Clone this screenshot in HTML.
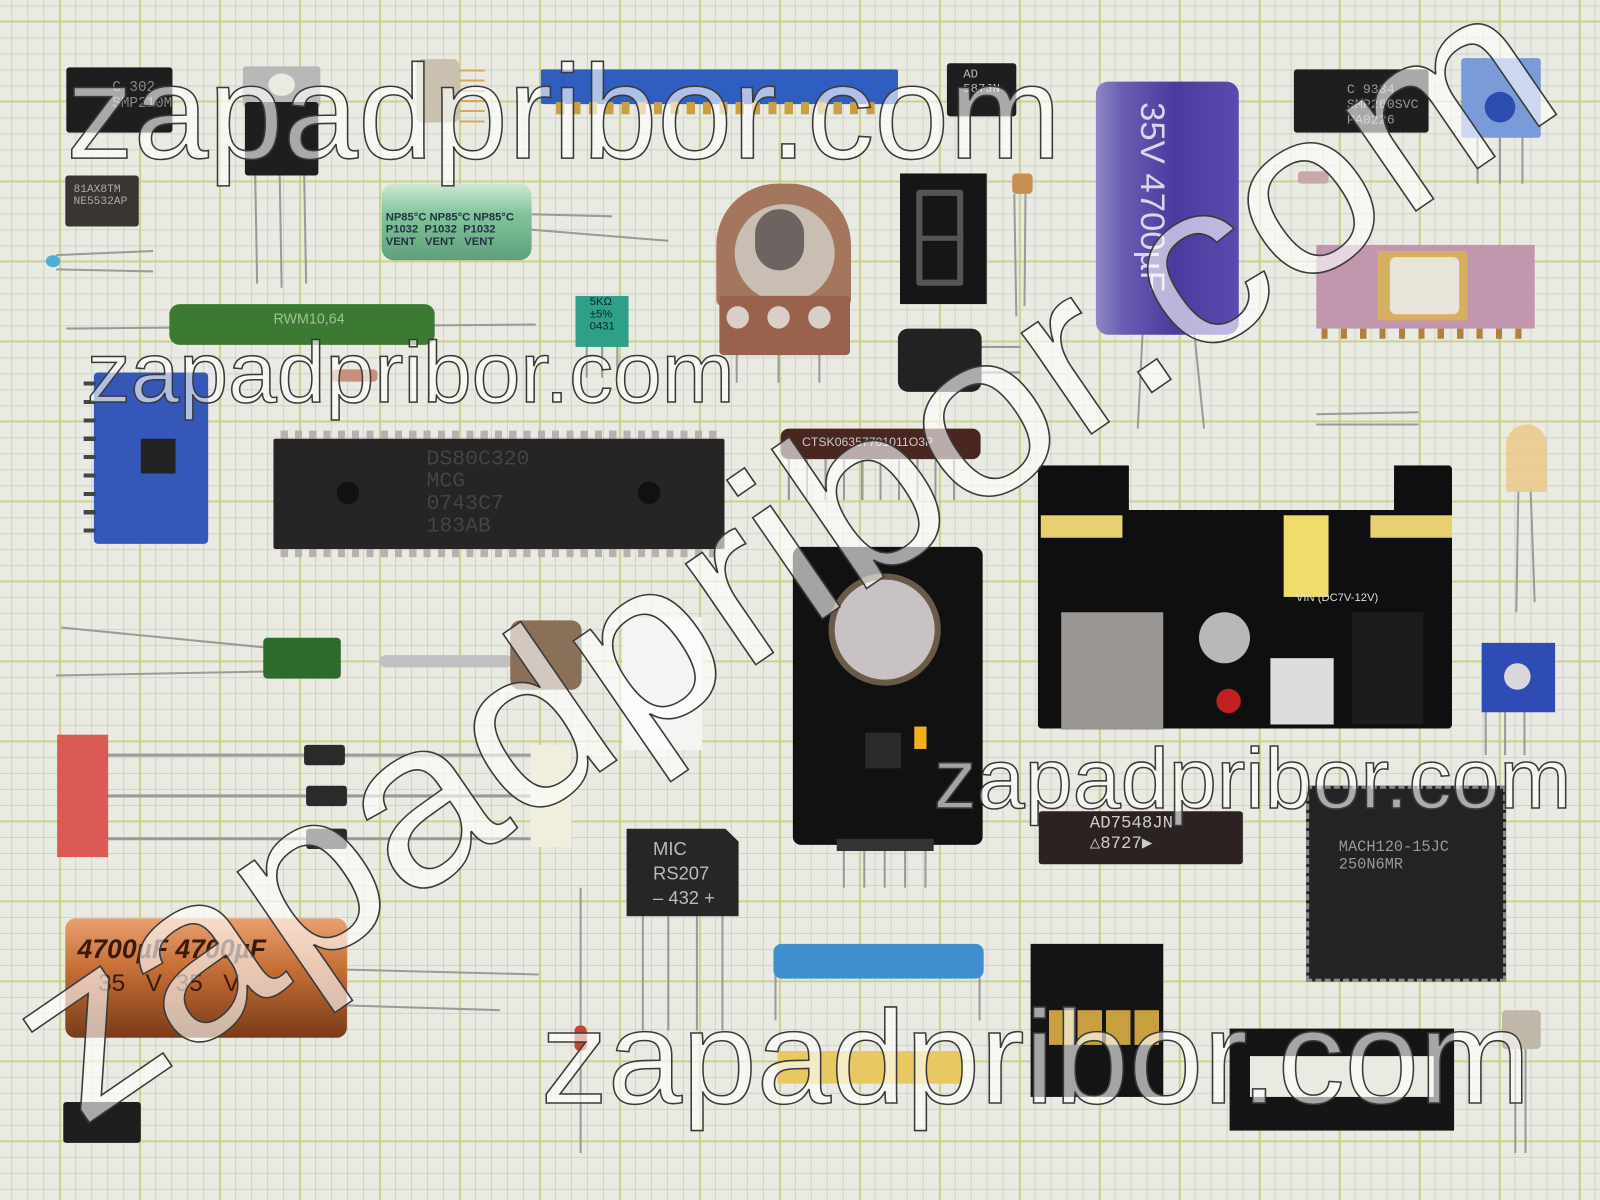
<!DOCTYPE html>
<html><head><meta charset="utf-8"><style>
html,body{margin:0;padding:0;width:1600px;height:1200px;overflow:hidden;background:#e9eae2}
#s{position:absolute;left:0;top:0;width:1568px;height:1176px;transform:scale(1.0204);transform-origin:0 0;
background-color:#e9eae2;
background-image:
linear-gradient(90deg,rgba(200,205,120,.75) 2px,transparent 2px),
linear-gradient(0deg,rgba(200,205,120,.75) 2px,transparent 2px),
linear-gradient(90deg,rgba(180,185,175,.45) 1px,transparent 1px),
linear-gradient(0deg,rgba(180,185,175,.45) 1px,transparent 1px);
background-size:78.4px 78.4px,78.4px 78.4px,15.68px 15.68px,15.68px 15.68px;
background-position:58px 0,0 22px,58px 0,0 22px;font-family:"Liberation Sans",sans-serif}
.a{position:absolute;box-sizing:border-box}
.blk{background:#1e1e1e;border-radius:3px}
.t{position:absolute;color:#888;font-family:"Liberation Mono",monospace}
.wm text{font-family:"Liberation Sans",sans-serif;fill:rgba(255,255,255,.62);stroke:#3a3a3a;stroke-width:1.5}
</style></head><body><div id="s">

<svg class="a" style="left:0;top:0" width="1568" height="1176">
<g stroke="#9a9a9a" stroke-width="2" fill="none">
<line x1="55" y1="250" x2="150" y2="246"/><line x1="55" y1="264" x2="150" y2="266"/>
<line x1="520" y1="210" x2="600" y2="212"/><line x1="520" y1="225" x2="655" y2="236"/>
<line x1="65" y1="322" x2="525" y2="318"/>
<line x1="994" y1="190" x2="996" y2="310"/><line x1="1005" y1="190" x2="1004" y2="300"/>
<line x1="960" y1="340" x2="1000" y2="340"/><line x1="960" y1="365" x2="1000" y2="365"/>
<line x1="1120" y1="322" x2="1115" y2="420"/><line x1="1170" y1="322" x2="1180" y2="420"/>
<line x1="1290" y1="406" x2="1390" y2="404"/><line x1="1290" y1="416" x2="1390" y2="416"/>
<line x1="1488" y1="480" x2="1486" y2="600"/><line x1="1500" y1="480" x2="1504" y2="590"/>
<line x1="60" y1="615" x2="265" y2="635"/><line x1="55" y1="662" x2="265" y2="658"/>
<line x1="100" y1="740" x2="530" y2="740" stroke-width="3"/><line x1="100" y1="780" x2="530" y2="780" stroke-width="3"/><line x1="100" y1="822" x2="530" y2="822" stroke-width="3"/>
<line x1="330" y1="950" x2="528" y2="955"/><line x1="330" y1="985" x2="490" y2="990"/>
<line x1="569" y1="870" x2="569" y2="1130"/>
<line x1="630" y1="895" x2="630" y2="1010"/><line x1="655" y1="895" x2="655" y2="1010"/><line x1="683" y1="895" x2="683" y2="1010"/><line x1="708" y1="895" x2="708" y2="1010"/>
<line x1="1485" y1="1025" x2="1485" y2="1130"/><line x1="1495" y1="1025" x2="1495" y2="1130"/>
<line x1="1456" y1="695" x2="1456" y2="740"/><line x1="1475" y1="695" x2="1475" y2="740"/><line x1="1494" y1="695" x2="1494" y2="740"/>
<line x1="250" y1="165" x2="252" y2="278"/><line x1="274" y1="165" x2="276" y2="282"/><line x1="298" y1="165" x2="300" y2="278"/>
<line x1="1448" y1="130" x2="1448" y2="180"/><line x1="1470" y1="130" x2="1470" y2="180"/><line x1="1492" y1="130" x2="1492" y2="180"/>
<line x1="722" y1="345" x2="722" y2="375"/><line x1="763" y1="345" x2="763" y2="375"/><line x1="803" y1="345" x2="803" y2="375"/>
<line x1="575" y1="338" x2="575" y2="370"/><line x1="590" y1="338" x2="590" y2="370"/><line x1="605" y1="338" x2="605" y2="370"/>
<line x1="760" y1="945" x2="760" y2="1000"/><line x1="960" y1="945" x2="960" y2="1000"/>
<line x1="827" y1="830" x2="827" y2="870"/><line x1="847" y1="830" x2="847" y2="870"/><line x1="867" y1="830" x2="867" y2="870"/><line x1="887" y1="830" x2="887" y2="870"/><line x1="907" y1="830" x2="907" y2="870"/>
</g></svg>

<div class="a blk" style="left:65px;top:66px;width:104px;height:64px"></div>
<div class="t" style="left:110px;top:78px;font-size:14px">C 302<br>SMP210M</div>
<div class="a" style="left:238px;top:65px;width:76px;height:40px;background:#b8b8b8;border-radius:3px"></div>
<div class="a" style="left:263px;top:72px;width:26px;height:22px;background:#e9eae2;border-radius:50%"></div>
<div class="a blk" style="left:240px;top:100px;width:72px;height:72px"></div>
<div class="a" style="left:64px;top:172px;width:72px;height:50px;background:#3b3532;border-radius:3px"></div>
<div class="t" style="left:72px;top:180px;font-size:11px;color:#aaa">81AX8TM<br>NE5532AP</div>
<div class="a" style="left:45px;top:250px;width:14px;height:12px;background:#4ab0d8;border-radius:50%"></div>
<div class="a" style="left:408px;top:58px;width:42px;height:62px;background:#c9c0b0;border-radius:6px"></div>
<div class="a" style="left:450px;top:60px;width:25px;height:60px;background:repeating-linear-gradient(0deg,#d8a860 0 2px,transparent 2px 10px)"></div>
<div class="a" style="left:530px;top:68px;width:350px;height:34px;background:#2d5ec0;border-radius:2px"></div>
<div class="a" style="left:545px;top:100px;width:315px;height:12px;background:repeating-linear-gradient(90deg,#c8a040 0 8px,transparent 8px 16px)"></div>
<div class="a blk" style="left:928px;top:62px;width:68px;height:52px"></div>
<div class="t" style="left:944px;top:66px;font-size:12px;color:#bbb">AD<br>587JN</div>
<div class="a" style="left:1074px;top:80px;width:140px;height:248px;background:linear-gradient(90deg,#8e88c4 0,#6a5fb3 18%,#4a3a9e 55%,#5a4cad 100%);border-radius:12px"></div>
<div class="a" style="top:100px;font-size:34px;color:#d8d8e8;transform:rotate(90deg);transform-origin:0 0;left:1148px;white-space:nowrap">35V 4700µF</div>
<div class="a blk" style="left:1268px;top:68px;width:132px;height:62px"></div>
<div class="t" style="left:1320px;top:80px;font-size:13px;color:#999">C 9334<br>SMP260SVC<br>PA0226</div>
<div class="a" style="left:1432px;top:57px;width:78px;height:78px;background:#7a9ad8;border-radius:3px"></div>
<div class="a" style="left:1455px;top:90px;width:30px;height:30px;background:#2c4cb0;border-radius:50%"></div>
<div class="a" style="left:1272px;top:168px;width:30px;height:12px;background:#c8a8a8;border-radius:3px"></div>
<div class="a" style="left:1290px;top:240px;width:214px;height:82px;background:#c197ae"></div>
<div class="a" style="left:1350px;top:246px;width:88px;height:68px;background:#d6b060"></div>
<div class="a" style="left:1362px;top:252px;width:68px;height:56px;background:#e8e4da;border-radius:6px"></div>
<div class="a" style="left:1295px;top:322px;width:205px;height:10px;background:repeating-linear-gradient(90deg,#b08040 0 6px,transparent 6px 19px)"></div>
<div class="a" style="left:374px;top:180px;width:147px;height:75px;background:linear-gradient(180deg,#cfe8d4,#82c49a 40%,#5ea07a);border-radius:12px"></div>
<div class="a" style="left:378px;top:207px;font-size:11px;color:#234;font-weight:bold;white-space:nowrap">NP85°C NP85°C NP85°C<br>P1032 &nbsp;P1032 &nbsp;P1032<br>VENT &nbsp;&nbsp;VENT &nbsp;&nbsp;VENT</div>
<div class="a" style="left:702px;top:180px;width:132px;height:120px;background:#a5765e;border-radius:60px 60px 6px 6px"></div>
<div class="a" style="left:720px;top:200px;width:98px;height:96px;background:#c8beb4;border-radius:50%"></div>
<div class="a" style="left:740px;top:205px;width:48px;height:60px;background:#6c6460;border-radius:24px"></div>
<div class="a" style="left:705px;top:290px;width:128px;height:58px;background:#98624c;border-radius:4px"></div>
<div class="a" style="left:712px;top:300px;width:22px;height:22px;background:#d8cfc8;border-radius:50%"></div>
<div class="a" style="left:752px;top:300px;width:22px;height:22px;background:#d8cfc8;border-radius:50%"></div>
<div class="a" style="left:792px;top:300px;width:22px;height:22px;background:#d8cfc8;border-radius:50%"></div>
<div class="a" style="left:882px;top:170px;width:85px;height:128px;background:#161616"></div>
<div class="a" style="left:898px;top:186px;width:46px;height:94px;border:6px solid #555;border-radius:3px"></div>
<div class="a" style="left:898px;top:231px;width:46px;height:5px;background:#555"></div>
<div class="a" style="left:992px;top:170px;width:20px;height:20px;background:#c89050;border-radius:4px"></div>
<div class="a" style="left:880px;top:322px;width:82px;height:62px;background:#222;border-radius:10px"></div>
<div class="a" style="left:166px;top:298px;width:260px;height:40px;background:#3c7a34;border-radius:10px"></div>
<div class="a" style="left:268px;top:304px;font-size:14px;color:#9fc098">RWM10,64</div>
<div class="a" style="left:564px;top:290px;width:52px;height:50px;background:#2fa088"></div>
<div class="a" style="left:578px;top:290px;font-size:11px;color:#123">5KΩ<br>±5%<br>0431</div>
<div class="a" style="left:325px;top:362px;width:45px;height:12px;background:#c8907c;border-radius:4px"></div>
<div class="a" style="left:92px;top:365px;width:112px;height:168px;background:#3558b8;border-radius:4px"></div>
<div class="a" style="left:82px;top:372px;width:12px;height:150px;background:repeating-linear-gradient(0deg,#444 0 4px,transparent 4px 18px)"></div>
<div class="a" style="left:138px;top:430px;width:34px;height:34px;background:#222"></div>
<div class="a" style="left:275px;top:422px;width:432px;height:10px;background:repeating-linear-gradient(90deg,#b8b0b0 0 7px,transparent 7px 14px)"></div>
<div class="a" style="left:275px;top:536px;width:432px;height:10px;background:repeating-linear-gradient(90deg,#b8b0b0 0 7px,transparent 7px 14px)"></div>
<div class="a" style="left:268px;top:430px;width:442px;height:108px;background:#262424;border-radius:2px"></div>
<div class="a" style="left:330px;top:472px;width:22px;height:22px;background:#111;border-radius:50%"></div>
<div class="a" style="left:625px;top:472px;width:22px;height:22px;background:#111;border-radius:50%"></div>
<div class="t" style="left:418px;top:440px;font-size:21px;color:#444;line-height:22px">DS80C320<br>MCG<br>0743C7<br>183AB</div>
<div class="a" style="left:765px;top:420px;width:196px;height:30px;background:#4a2620;border-radius:8px"></div>
<div class="a" style="left:786px;top:426px;font-size:12px;color:#ccc">CTSK06357701011O3P</div>
<div class="a" style="left:772px;top:450px;width:180px;height:40px;background:repeating-linear-gradient(90deg,#999 0 2px,transparent 2px 18px)"></div>
<div class="a" style="left:1017px;top:456px;width:406px;height:258px;background:#0f0f0f;border-radius:4px;clip-path:polygon(0 0,22% 0,22% 17%,86% 17%,86% 0,100% 0,100% 100%,0 100%)"></div>
<div class="a" style="left:1020px;top:505px;width:80px;height:22px;background:#e8d070"></div>
<div class="a" style="left:1343px;top:505px;width:80px;height:22px;background:#e8d070"></div>
<div class="a" style="left:1258px;top:505px;width:44px;height:80px;background:#f0dc6a"></div>
<div class="a" style="left:1040px;top:600px;width:100px;height:115px;background:#9a9694"></div>
<div class="a" style="left:1175px;top:600px;width:50px;height:50px;background:#b8b8b8;border-radius:50%"></div>
<div class="a" style="left:1245px;top:645px;width:62px;height:65px;background:#ddd"></div>
<div class="a" style="left:1192px;top:675px;width:24px;height:24px;background:#c02020;border-radius:50%"></div>
<div class="a" style="left:1325px;top:600px;width:70px;height:110px;background:#1c1c1c"></div>
<div class="a" style="top:580px;font-size:11px;color:#ddd;white-space:nowrap;left:1270px">VIN (DC7V-12V)</div>
<div class="a" style="left:1476px;top:416px;width:40px;height:66px;background:#ecc888;border-radius:20px 20px 2px 2px;opacity:.85"></div>
<div class="a" style="left:1452px;top:630px;width:72px;height:68px;background:#2f4cb4"></div>
<div class="a" style="left:1474px;top:650px;width:26px;height:26px;background:#d8d8d8;border-radius:50%"></div>
<div class="a" style="left:258px;top:625px;width:76px;height:40px;background:#2d6b2c;border-radius:4px"></div>
<div class="a" style="left:372px;top:642px;width:130px;height:12px;background:#c0c0c0;border-radius:6px"></div>
<div class="a" style="left:500px;top:608px;width:70px;height:68px;background:#8a7058;border-radius:10px"></div>
<div class="a" style="left:610px;top:605px;width:78px;height:130px;background:#f4f4f2"></div>
<div class="a" style="left:520px;top:730px;width:40px;height:100px;background:#f0eedc"></div>
<div class="a" style="left:56px;top:720px;width:50px;height:120px;background:#dc5a55"></div>
<div class="a" style="left:298px;top:730px;width:40px;height:20px;background:#2a2a2a;border-radius:3px"></div>
<div class="a" style="left:300px;top:770px;width:40px;height:20px;background:#2a2a2a;border-radius:3px"></div>
<div class="a" style="left:300px;top:812px;width:40px;height:20px;background:#2a2a2a;border-radius:3px"></div>
<div class="a" style="left:777px;top:536px;width:186px;height:292px;background:#111;border-radius:8px"></div>
<div class="a" style="left:818px;top:568px;width:98px;height:98px;background:#c8c2c4;border-radius:50%;box-shadow:0 0 0 6px #6a5a4a"></div>
<div class="a" style="left:848px;top:718px;width:35px;height:35px;background:#2a2a2a"></div>
<div class="a" style="left:896px;top:712px;width:12px;height:22px;background:#f0b020"></div>
<div class="a" style="left:820px;top:822px;width:95px;height:12px;background:#333"></div>
<div class="a" style="left:1018px;top:795px;width:200px;height:52px;background:#2d2222;border-radius:3px"></div>
<div class="t" style="left:1068px;top:798px;font-size:17px;color:#ccc;line-height:20px">AD7548JN<br>△8727▶</div>
<div class="a" style="left:1280px;top:770px;width:196px;height:192px;background:#232323;border:3px dashed #888"></div>
<div class="t" style="left:1312px;top:822px;font-size:15px;color:#999">MACH120-15JC<br>250N6MR</div>
<div class="a" style="left:614px;top:812px;width:110px;height:86px;background:#262626;clip-path:polygon(0 0,88% 0,100% 15%,100% 100%,0 100%)"></div>
<div class="t" style="left:640px;top:820px;font-size:18px;color:#bbb;line-height:24px;font-family:'Liberation Sans',sans-serif">MIC<br>RS207<br>– 432 +</div>
<div class="a" style="left:64px;top:900px;width:276px;height:117px;background:linear-gradient(180deg,#e8a070,#c87038 40%,#7a3c18);border-radius:10px"></div>
<div class="a" style="left:76px;top:915px;font-size:26px;color:#3a1a0a;font-style:italic;font-weight:bold;white-space:nowrap">4700µF 4700µF</div>
<div class="a" style="left:96px;top:950px;font-size:24px;color:#3a1a0a;white-space:nowrap">35 &nbsp;&nbsp;V &nbsp;35 &nbsp;&nbsp;V</div>
<div class="a" style="left:563px;top:1005px;width:12px;height:25px;background:#c04830;border-radius:5px"></div>
<div class="a blk" style="left:62px;top:1080px;width:76px;height:40px"></div>
<div class="a" style="left:758px;top:925px;width:206px;height:34px;background:#3f8ed0;border-radius:8px"></div>
<div class="a" style="left:762px;top:1030px;width:180px;height:32px;background:#e8c860"></div>
<div class="a" style="left:1010px;top:925px;width:130px;height:150px;background:#141414"></div>
<div class="a" style="left:1028px;top:990px;width:112px;height:34px;background:repeating-linear-gradient(90deg,#c8a040 0 24px,transparent 24px 28px)"></div>
<div class="a" style="left:1205px;top:1008px;width:220px;height:100px;background:#151515"></div>
<div class="a" style="left:1225px;top:1035px;width:180px;height:40px;background:#e9eae2"></div>
<div class="a" style="left:1472px;top:990px;width:38px;height:38px;background:#c0b8a8;border-radius:4px"></div>

<svg class="a wm" style="left:0;top:0" width="1568" height="1176">
<text x="65" y="155" font-size="131" textLength="975" lengthAdjust="spacingAndGlyphs">zapadpribor.com</text>
<text x="85" y="394" font-size="85" textLength="635" lengthAdjust="spacingAndGlyphs">zapadpribor.com</text>
<text x="915" y="792" font-size="84" textLength="625" lengthAdjust="spacingAndGlyphs">zapadpribor.com</text>
<text x="530" y="1081" font-size="130" textLength="970" lengthAdjust="spacingAndGlyphs">zapadpribor.com</text>
<text x="775" y="615" font-size="228" text-anchor="middle" textLength="1770" lengthAdjust="spacingAndGlyphs" transform="rotate(-34.5 775 555)">zapadpribor.com</text>
</svg>
</div></body></html>
